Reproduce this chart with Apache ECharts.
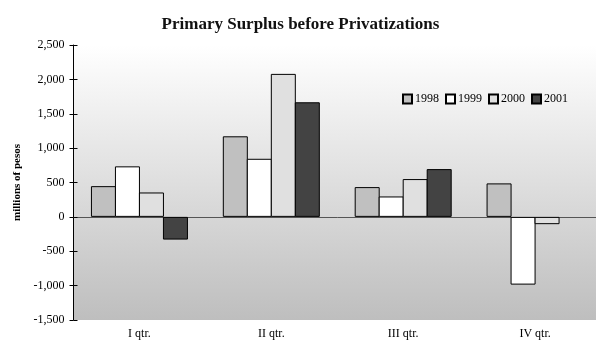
<!DOCTYPE html>
<html>
<head>
<meta charset="utf-8">
<script src="https://cdn.jsdelivr.net/npm/echarts@6/dist/echarts.min.js"></script>
<style>
  html, body { margin: 0; padding: 0; background: #fff; overflow: hidden; }
  #chart { width: 601px; height: 345px; }
</style>
</head>
<body>
<div id="chart"></div>
<script>
// Quarterly primary surplus before privatizations, millions of pesos
const quarters = ['I qtr.', 'II qtr.', 'III qtr.', 'IV qtr.'];
const years = ['1998', '1999', '2000', '2001'];
const values1998 = [447, 1172, 433, 487];
const values1999 = [735, 845, 297, -985];
const values2000 = [355, 2080, 550, -106];
const values2001 = [-330, 1667, 695, null];
const yTicks = { min: -1500, max: 2500, interval: 500 };

const seriesValues = [values1998, values1999, values2000, values2001];
const fills = ['#c0c0c0', '#ffffff', '#e0e0e0', '#434343'];
const serif = '"Liberation Serif", "DejaVu Serif", serif';

const chart = echarts.init(document.getElementById('chart'));

const fmt = v => v.toLocaleString('en-US');

chart.setOption({
  animation: false,
  title: {
    text: 'Primary Surplus before Privatizations',
    left: 'center',
    top: 11,
    textStyle: { fontFamily: serif, fontSize: 17, fontWeight: 'bold', color: '#111' }
  },
  legend: {
    data: years,
    left: 397,
    top: 88,
    itemWidth: 9,
    itemHeight: 9,
    itemGap: 6,
    icon: 'rect',
    textStyle: { fontFamily: serif, fontSize: 12, color: '#000', padding: [0, 0, 0, -2] }
  },
  grid: {
    left: 73.5, right: 0, top: 45, bottom: 25,
    show: true,
    borderWidth: 0,
    backgroundColor: new echarts.graphic.LinearGradient(0, 0, 0, 1, [
      { offset: 0, color: '#ffffff' },
      { offset: 1, color: '#bebebe' }
    ])
  },
  xAxis: [
    {
      // zero line with category separators (upper half of tick)
      type: 'category',
      data: quarters,
      axisLine: { onZero: true, lineStyle: { color: '#555', width: 1 } },
      axisTick: { inside: true, length: 4, lineStyle: { color: '#222' } },
      axisLabel: { show: false },
      splitLine: { show: false }
    },
    {
      // lower half of separator ticks
      type: 'category',
      data: quarters,
      axisLine: { onZero: true, show: false },
      axisTick: { inside: false, length: 4, lineStyle: { color: '#222' } },
      axisLabel: { show: false }
    },
    {
      // quarter labels at the bottom of the plot
      type: 'category',
      data: quarters,
      position: 'bottom',
      axisLine: { show: false, onZero: false },
      axisTick: { show: false },
      axisLabel: { fontFamily: serif, fontSize: 12, color: '#000', margin: 8 }
    }
  ],
  yAxis: [
    {
      type: 'value',
      min: yTicks.min, max: yTicks.max, interval: yTicks.interval,
      name: 'millions of pesos',
      nameLocation: 'middle',
      nameGap: 48,
      nameTextStyle: { fontFamily: serif, fontSize: 11, fontWeight: 'bold', color: '#000' },
      axisLine: { show: true, lineStyle: { color: '#000', width: 1 } },
      axisTick: { show: true, inside: false, length: 4, lineStyle: { color: '#000' } },
      axisLabel: { fontFamily: serif, fontSize: 12, color: '#000', margin: 9, formatter: fmt },
      splitLine: { show: false }
    },
    {
      type: 'value',
      position: 'left',
      min: yTicks.min, max: yTicks.max, interval: yTicks.interval,
      axisLine: { show: false },
      axisTick: { show: true, inside: true, length: 4, lineStyle: { color: '#000' } },
      axisLabel: { show: false },
      splitLine: { show: false }
    }
  ],
  series: years.map((y, i) => ({
    name: y,
    type: 'bar',
    xAxisIndex: 0,
    yAxisIndex: 0,
    data: seriesValues[i],
    barWidth: 25,
    // neighbouring bars share one border line
    barGap: '-4%',
    itemStyle: { color: fills[i], borderColor: '#000', borderWidth: 1 }
  }))
});
</script>
</body>
</html>
